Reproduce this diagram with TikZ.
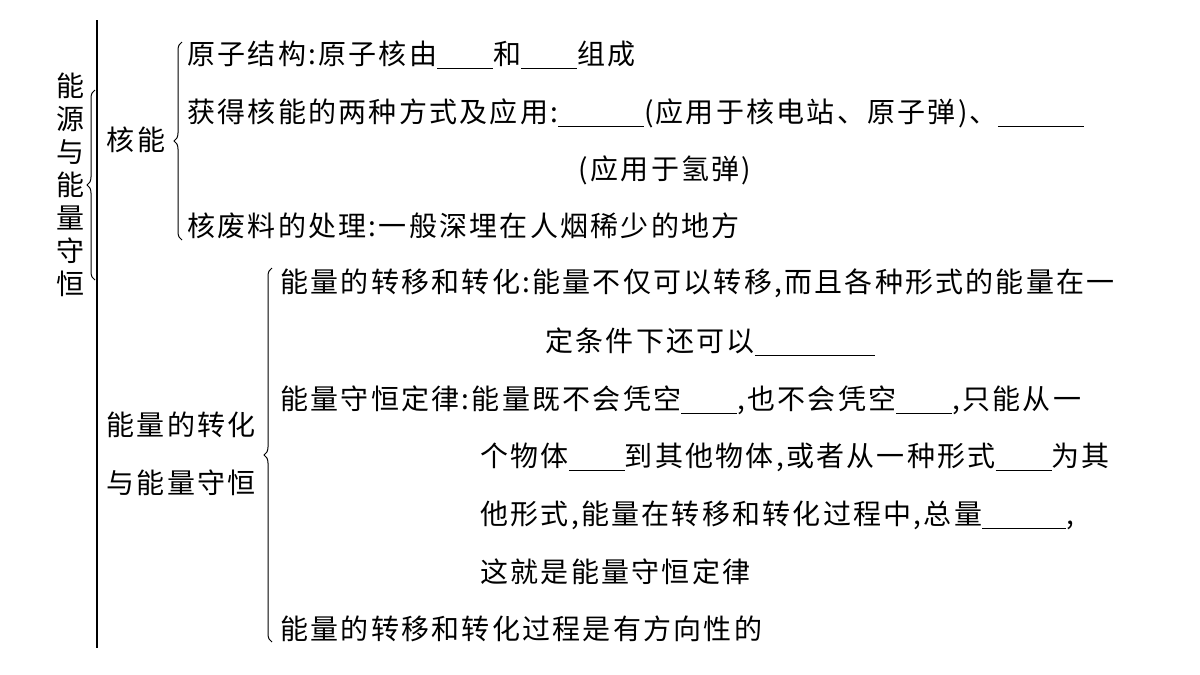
\documentclass[tikz,border=0pt]{standalone}
\usepackage{fontspec}
\newfontfamily\cjk[LetterSpace=8]{Noto Sans CJK SC}
\usetikzlibrary{decorations.pathreplacing}
\newcommand{\blank}[1]{\rule[-2.5pt]{#1}{0.5pt}}
\begin{document}
\begin{tikzpicture}[x=0.5pt,y=-0.5pt,
  every node/.style={font=\cjk\fontsize{14}{16}\selectfont, inner sep=0pt},
  txt/.style={anchor=west},
  bracepath/.style={decorate, decoration={brace, amplitude=4pt}, line width=0.5pt}]
			\useasboundingbox (0,0) rectangle (1200,675);
			
			%Left column
			\draw[line width=0.6pt] (97,20) -- (97,648);
			\node[align=center, font=\cjk\fontsize{14}{16.5}\selectfont] (root) at (70,185) {能\\源\\与\\能\\量\\守\\恒};
			\draw[bracepath] (95,280) -- (95,90);
			
			%Nuclear energy
			\node (he) at (136,140) {核能};
			\draw[bracepath] (182,240) -- (182,42);
			\node[txt] (h1) at (187,55) {原子结构:原子核由\blank{28pt}和\blank{28pt}组成};
			\node[txt] (h2) at (187,113) {获得核能的两种方式及应用:\blank{43pt}(应用于核电站、原子弹)、\blank{43pt}};
			\node (h3) at (665,170) {(应用于氢弹)};
			\node[txt] (h4) at (187,226) {核废料的处理:一般深埋在人烟稀少的地方};
			
			%Conservation of energy
			\node[align=center, font=\cjk\fontsize{14}{29}\selectfont] (nl) at (181,454) {能量的转化\\与能量守恒};
			\draw[bracepath] (272,642) -- (272,268);
			\node[txt] (n1) at (280,283) {能量的转移和转化:能量不仅可以转移,而且各种形式的能量在一};
			\node[txt] (n1b) at (545,342) {定条件下还可以\blank{60pt}};
			\node[txt] (n2) at (280,400) {能量守恒定律:能量既不会凭空\blank{28pt},也不会凭空\blank{28pt},只能从一};
			\node[txt] (n2b) at (480,457) {个物体\blank{28pt}到其他物体,或者从一种形式\blank{28pt}为其};
			\node[txt] (n2c) at (480,515) {他形式,能量在转移和转化过程中,总量\blank{42pt},};
			\node[txt] (n2d) at (480,572) {这就是能量守恒定律};
			\node[txt] (n3) at (280,629) {能量的转移和转化过程是有方向性的};
\end{tikzpicture}
\end{document}
